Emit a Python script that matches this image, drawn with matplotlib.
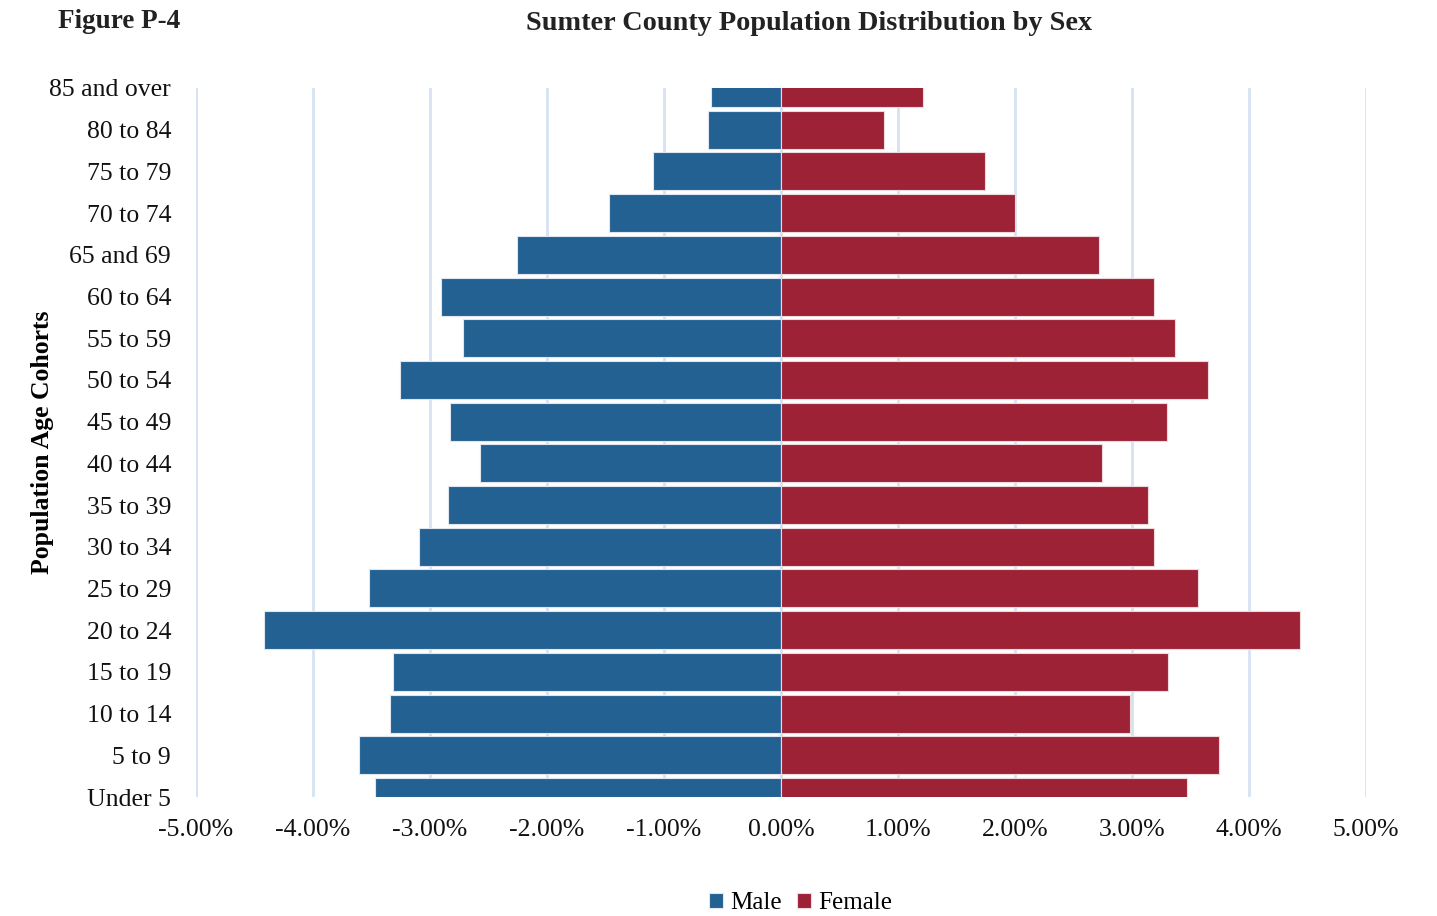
import numpy as np
import matplotlib
matplotlib.use('Agg')
from matplotlib import pyplot as plt
from matplotlib.ticker import FuncFormatter, MultipleLocator

# age cohorts, bottom to top
cohorts = ["Under 5", "5 to 9", "10 to 14", "15 to 19", "20 to 24", "25 to 29",
           "30 to 34", "35 to 39", "40 to 44", "45 to 49", "50 to 54", "55 to 59",
           "60 to 64", "65 and 69", "70 to 74", "75 to 79", "80 to 84", "85 and over"]

# percent of total population
male = [-3.47, -3.61, -3.34, -3.32, -4.42, -3.52, -3.09, -2.85, -2.57, -2.83,
        -3.26, -2.72, -2.91, -2.26, -1.47, -1.09, -0.62, -0.60]
female = [3.47, 3.74, 2.98, 3.31, 4.44, 3.56, 3.19, 3.14, 2.74, 3.30,
          3.65, 3.37, 3.19, 2.72, 2.00, 1.74, 0.88, 1.21]

BLUE = '#236192'
RED = '#9e2236'
GRID = '#d6e2f2'

plt.rcParams['font.family'] = ['Liberation Serif', 'DejaVu Serif']

fig = plt.figure(figsize=(14.37, 9.16), dpi=100)
W, H = 1437.0, 916.0
ax = fig.add_axes([196 / W, 1 - 797 / H, (1366 - 196) / W, (797 - 88) / H])

y = np.arange(len(cohorts))
ax.barh(y, male, height=0.91, color=BLUE, edgecolor='#dfe6ef', linewidth=0.8,
        label='Male', zorder=2)
ax.barh(y, female, height=0.91, color=RED, edgecolor='#ecd9dc', linewidth=0.8,
        label='Female', zorder=2)

ax.set_xlim(-5, 5)
ax.set_ylim(0, len(cohorts) - 1)
ax.xaxis.set_major_locator(MultipleLocator(1))
ax.xaxis.set_major_formatter(FuncFormatter(lambda v, p: "%.2f%%" % v))
ax.grid(axis='x', color=GRID, linewidth=2, zorder=0)
ax.set_axisbelow(True)
for s in ax.spines.values():
    s.set_visible(False)
ax.set_yticks(y)
ax.set_yticklabels(cohorts)
ax.tick_params(axis='both', length=0, labelsize=18.5, colors='#111111')
ax.tick_params(axis='y', pad=18)
ax.tick_params(axis='x', pad=16)

ax.set_ylabel("Population Age Cohorts", fontsize=18.5, fontweight='bold')
ax.yaxis.set_label_coords(-0.121, 0.5)

fig.text(58 / W, 1 - 22 / H, "Figure P-4", fontsize=19.5, fontweight='bold',
         va='center', ha='left', color='#222222')
fig.text(809 / W, 1 - 23 / H, "Sumter County Population Distribution by Sex",
         fontsize=20.3, fontweight='bold', va='center', ha='center',
         color='#222222')

fig.legend(loc='center', bbox_to_anchor=(801 / W, 1 - 903 / H), ncol=2,
           frameon=False, fontsize=18, handlelength=0.55, handleheight=0.55,
           handletextpad=0.3, columnspacing=0.6)

fig.savefig('out.png', dpi=100)
